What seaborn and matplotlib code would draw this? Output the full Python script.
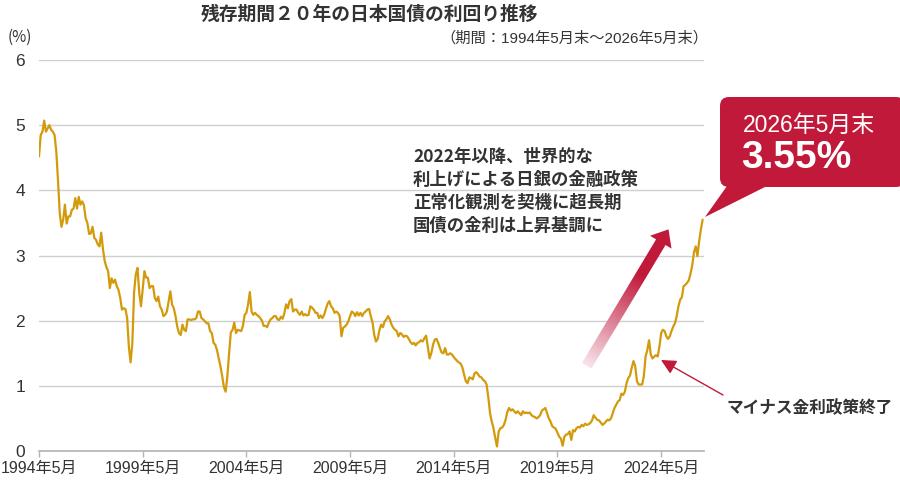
import numpy as np
import pandas as pd
import matplotlib
matplotlib.use("Agg")
import matplotlib.pyplot as plt
import seaborn as sns
from matplotlib.patches import Polygon, FancyBboxPatch, FancyArrowPatch
from matplotlib.colors import LinearSegmentedColormap

# 残存期間20年の日本国債 利回り（月末, %）
# 各リストは5月〜翌々年4月までの60か月分（最後だけ2024年5月〜2026年5月）
yld_1994_1999 = [
    4.52, 4.85, 4.90, 5.07, 4.90, 4.95, 5.00, 4.93, 4.90, 4.85, 4.60, 4.15,
    3.65, 3.44, 3.55, 3.78, 3.49, 3.60, 3.60, 3.70, 3.72, 3.88, 3.72, 3.90,
    3.78, 3.83, 3.77, 3.57, 3.50, 3.33, 3.34, 3.44, 3.27, 3.24, 3.17, 3.14,
    3.35, 3.10, 2.92, 2.82, 2.76, 2.50, 2.65, 2.58, 2.63, 2.53, 2.47, 2.35,
    2.17, 2.19, 2.18, 2.04, 1.60, 1.36, 1.65, 2.43, 2.71, 2.81, 2.43, 2.22,
]
yld_1999_2004 = [
    2.48, 2.76, 2.66, 2.66, 2.50, 2.53, 2.53, 2.35, 2.30, 2.37, 2.22, 2.17,
    2.07, 2.09, 2.14, 2.30, 2.45, 2.25, 2.19, 2.07, 1.91, 1.81, 1.78, 1.94,
    1.86, 1.84, 2.02, 2.02, 2.01, 2.02, 2.02, 2.04, 2.14, 2.14, 2.04, 2.02,
    1.99, 1.96, 1.96, 1.84, 1.81, 1.66, 1.63, 1.55, 1.42, 1.30, 1.15, 0.98,
    0.91, 1.15, 1.50, 1.82, 1.86, 1.97, 1.81, 1.86, 1.85, 1.84, 1.92, 2.09,
]
yld_2004_2009 = [
    2.12, 2.25, 2.44, 2.14, 2.09, 2.12, 2.09, 2.07, 2.04, 2.00, 1.92, 1.92,
    1.90, 1.97, 2.02, 2.04, 2.07, 2.07, 2.02, 2.01, 2.06, 2.03, 2.12, 2.25,
    2.19, 2.30, 2.33, 2.14, 2.17, 2.17, 2.12, 2.09, 2.14, 2.08, 2.10, 2.08,
    2.09, 2.22, 2.20, 2.17, 2.12, 2.12, 2.04, 2.08, 2.04, 2.09, 2.18, 2.26,
    2.30, 2.22, 2.19, 2.12, 2.14, 2.12, 2.07, 1.76, 1.89, 1.91, 1.94, 1.99,
]
yld_2009_2014 = [
    2.07, 2.14, 2.12, 2.07, 2.13, 2.08, 2.12, 2.07, 2.12, 2.14, 2.17, 2.18,
    2.07, 1.97, 1.78, 1.68, 1.72, 1.86, 1.94, 1.90, 1.99, 2.02, 2.07, 2.02,
    1.94, 1.89, 1.86, 1.84, 1.76, 1.81, 1.79, 1.75, 1.77, 1.76, 1.72, 1.67,
    1.64, 1.66, 1.62, 1.66, 1.67, 1.70, 1.68, 1.73, 1.77, 1.60, 1.42, 1.50,
    1.63, 1.71, 1.72, 1.66, 1.58, 1.51, 1.50, 1.58, 1.48, 1.48, 1.50, 1.48,
]
yld_2014_2019 = [
    1.44, 1.41, 1.38, 1.36, 1.34, 1.28, 1.17, 1.07, 1.04, 1.13, 1.12, 1.10,
    1.19, 1.21, 1.18, 1.14, 1.13, 1.09, 1.07, 1.02, 0.82, 0.58, 0.45, 0.35,
    0.20, 0.07, 0.30, 0.35, 0.36, 0.40, 0.48, 0.60, 0.66, 0.62, 0.64, 0.61,
    0.58, 0.61, 0.58, 0.55, 0.61, 0.58, 0.59, 0.58, 0.59, 0.55, 0.53, 0.52,
    0.50, 0.52, 0.55, 0.62, 0.64, 0.66, 0.58, 0.50, 0.45, 0.38, 0.36, 0.34,
]
yld_2019_2024 = [
    0.28, 0.22, 0.19, 0.08, 0.22, 0.25, 0.26, 0.30, 0.17, 0.32, 0.30, 0.35,
    0.37, 0.36, 0.40, 0.38, 0.42, 0.40, 0.41, 0.43, 0.47, 0.55, 0.51, 0.48,
    0.47, 0.44, 0.40, 0.42, 0.45, 0.48, 0.47, 0.50, 0.58, 0.66, 0.71, 0.76,
    0.78, 0.88, 0.86, 0.91, 1.04, 1.12, 1.16, 1.28, 1.38, 1.30, 1.07, 1.02,
    1.02, 1.02, 1.15, 1.45, 1.55, 1.70, 1.48, 1.42, 1.45, 1.47, 1.45, 1.60,
]
yld_2024_2026 = [
    1.81, 1.86, 1.84, 1.76, 1.72, 1.76, 1.84, 1.91, 1.96, 2.07, 2.22, 2.32,
    2.36, 2.53, 2.55, 2.58, 2.62, 2.72, 2.85, 3.05, 3.14, 2.99, 3.22, 3.40,
    3.55,
]

tick_labels = ["1994年5月", "1999年5月", "2004年5月", "2009年5月",
               "2014年5月", "2019年5月", "2024年5月"]
y_ticks = [0, 1, 2, 3, 4, 5, 6]

title = "残存期間２０年の日本国債の利回り推移"
period_note = "（期間：1994年5月末〜2026年5月末）"
comment_lines = ["2022年以降、世界的な", "利上げによる日銀の金融政策",
                 "正常化観測を契機に超長期", "国債の金利は上昇基調に"]
last_label = "2026年5月末"
last_value = "3.55%"
event_label = "マイナス金利政策終了"

LINE = "#d39a0b"
RED = "#c1193a"
TXT = "#333333"
LATIN = ["Liberation Sans", "Noto Sans CJK JP"]

values = (yld_1994_1999 + yld_1999_2004 + yld_2004_2009 + yld_2009_2014
          + yld_2014_2019 + yld_2019_2024 + yld_2024_2026)
df = pd.DataFrame({"month": np.arange(len(values)), "yield": values})

sns.set_theme(style="white")
plt.rcParams["font.family"] = ["Noto Sans CJK JP", "DejaVu Sans"]

fig = plt.figure(figsize=(9, 4.8), dpi=100)
ax = fig.add_axes([39 / 900, 1 - 451 / 480, 665 / 900, 391 / 480])

sns.lineplot(data=df, x="month", y="yield", ax=ax, color=LINE, lw=1.6, zorder=3)

ax.set_xlim(0, 384.8)
ax.set_ylim(0, 6)
ax.set_yticks(y_ticks)
ax.set_yticklabels([str(t) for t in y_ticks], family=LATIN)
ax.set_xticks(np.arange(len(tick_labels)) * 60)
ax.set_xticklabels(tick_labels, family=LATIN)
ax.set_xlabel("")
ax.set_ylabel("")
ax.grid(axis="y", color="#cfcfcf", lw=1)
for s in ["top", "right", "left"]:
    ax.spines[s].set_visible(False)
ax.spines["bottom"].set_color("#b5b5b5")
ax.tick_params(axis="y", length=0, pad=10, labelsize=12.5, labelcolor=TXT)
ax.tick_params(axis="x", length=4, width=1, color="#b5b5b5", pad=3,
               labelsize=11.5, labelcolor=TXT, bottom=True)

# overlay in pixel coordinates for the annotations
ov = fig.add_axes([0, 0, 1, 1], zorder=5)
ov.set_xlim(0, 900)
ov.set_ylim(480, 0)
ov.axis("off")

ov.text(370, 14, title, ha="center", va="center", fontsize=13.5,
        fontweight="bold", color=TXT)
ov.text(20, 37, "(%)", ha="center", va="center", fontsize=11, color=TXT)
ov.text(708, 38, period_note, ha="right", va="center", fontsize=11,
        color=TXT, family=LATIN)

for i, line in enumerate(comment_lines):
    ov.text(413, 157 + 23 * i, line, ha="left", va="center", fontsize=12.5,
            fontweight="bold", color=TXT)

# gradient arrow
tail = np.array([586.7, 365.8])
base = np.array([660.8, 242.2])
d = base - tail
u = d / np.linalg.norm(d)
n = np.array([-u[1], u[0]])
tip = base + u * 15
pts = [tail + n * 5.5, base + n * 5.5, base + n * 12.5, tip,
       base - n * 12.5, base - n * 5.5, tail - n * 5.5]
poly = Polygon(pts, closed=True, facecolor="none", edgecolor="none")
ov.add_patch(poly)
xs = np.linspace(570, 690, 200)
ys = np.linspace(215, 380, 260)
X, Y = np.meshgrid(xs, ys)
t = ((X - tail[0]) * u[0] + (Y - tail[1]) * u[1]) / np.linalg.norm(tip - tail)
t = np.clip(t, 0, 1)
cmap = LinearSegmentedColormap.from_list("g", ["#f8e4ea", "#dc7d93", RED, RED])
img = ov.imshow(t, extent=(570, 690, 215, 380), origin="lower", cmap=cmap,
                vmin=0, vmax=1, aspect="auto", interpolation="bilinear", zorder=4)
img.set_clip_path(poly)
ov.set_xlim(0, 900)
ov.set_ylim(480, 0)

# callout box
box = FancyBboxPatch((720, 97), 185, 90, boxstyle="round,pad=0,rounding_size=9",
                     facecolor=RED, edgecolor="none", zorder=6)
ov.add_patch(box)
ov.add_patch(Polygon([(727, 186), (767, 186), (705, 217)], closed=True,
                     facecolor=RED, edgecolor="none", zorder=6))
ov.text(743, 125, last_label, ha="left", va="center", fontsize=16.5,
        color="white", zorder=7, family=LATIN)
ov.text(741, 158, last_value, ha="left", va="center", fontsize=28,
        fontweight="bold", color="white", zorder=7, family=LATIN)

# event arrow
ov.add_patch(FancyArrowPatch((723, 395), (661, 360),
                             arrowstyle="-|>,head_length=9,head_width=4.5",
                             mutation_scale=1, color=RED, lw=1,
                             shrinkA=0, shrinkB=0, zorder=6))
ov.text(727, 408, event_label, ha="left", va="center", fontsize=12,
        fontweight="bold", color=TXT)

fig.savefig("out.png", dpi=100)
